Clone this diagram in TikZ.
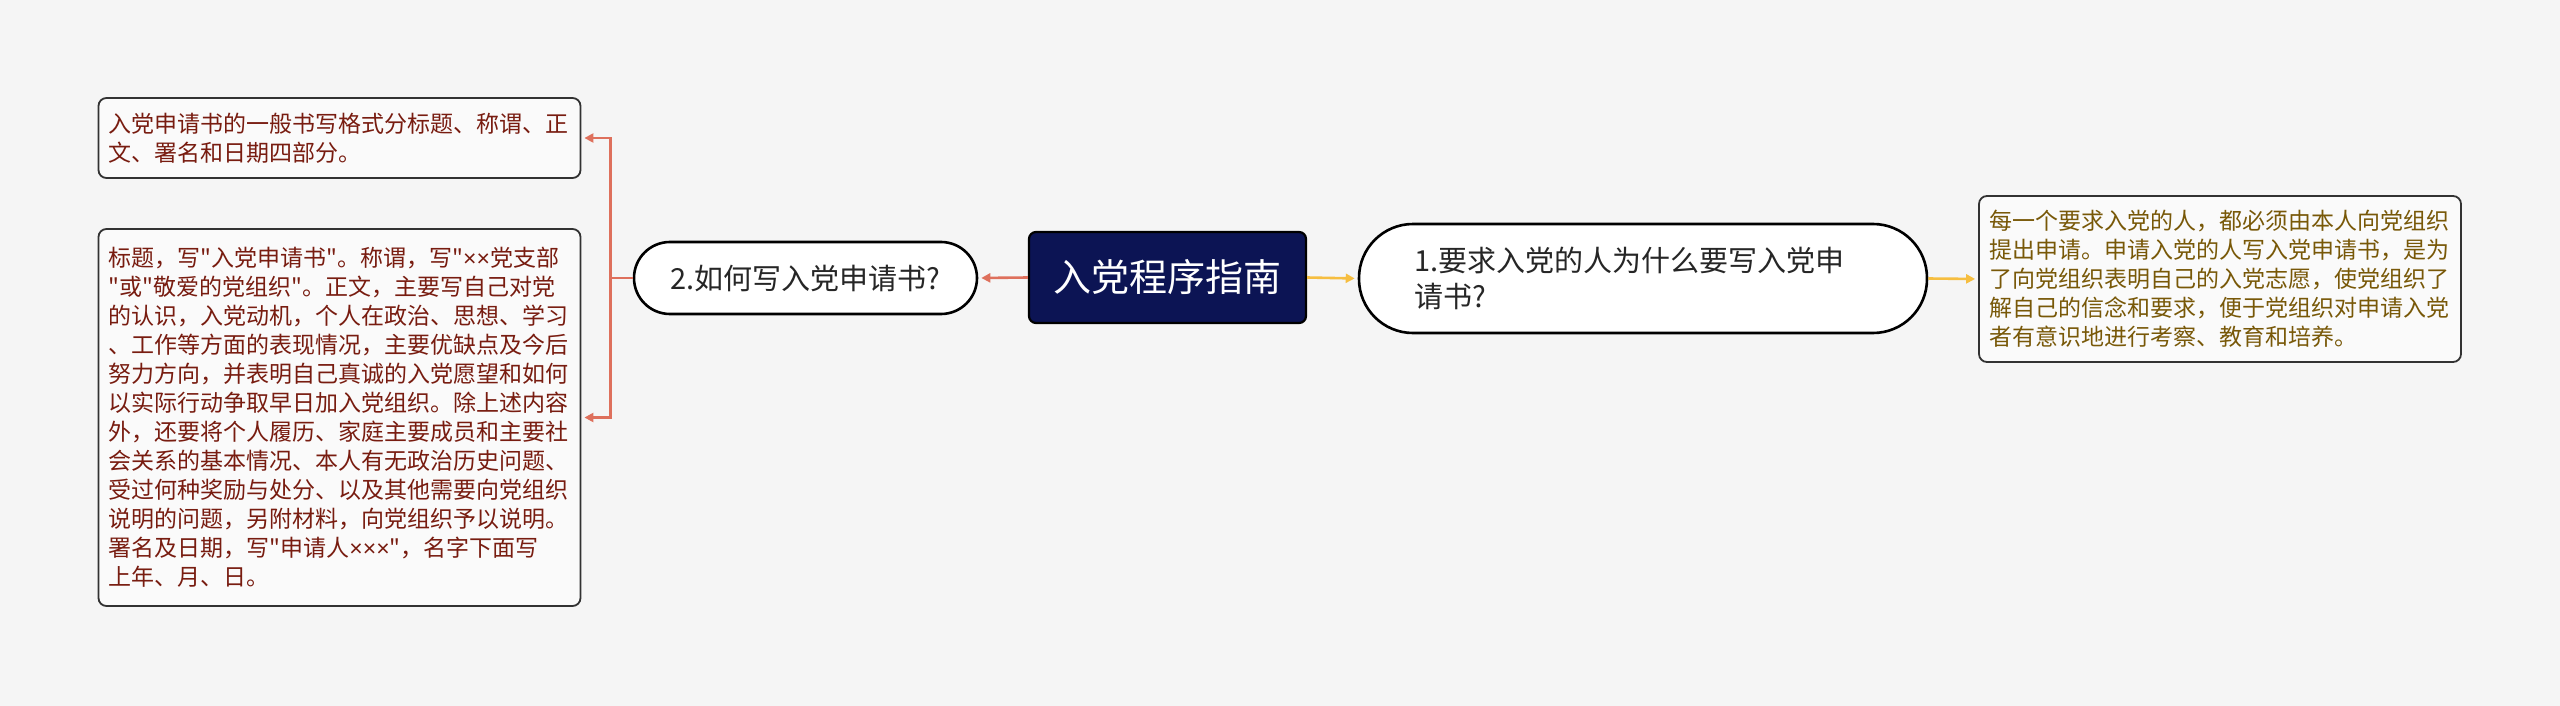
\documentclass[tikz,border=0pt]{standalone}
\usepackage{fontspec}
\usetikzlibrary{arrows.meta, positioning}
\newfontfamily\cjk{Noto Sans CJK SC}
\newfontfamily\latin{Liberation Sans}
\newcommand{\tms}{{\latin ×}}
\definecolor{PageGray}{RGB}{245,245,245}
\definecolor{RootNavy}{RGB}{12,20,84}
\definecolor{LeftLine}{RGB}{222,112,92}
\definecolor{LeftText}{RGB}{120,28,16}
\definecolor{RightLine}{RGB}{246,190,64}
\definecolor{RightText}{RGB}{120,88,8}
\definecolor{BoxLine}{RGB}{50,50,50}

\begin{document}
\begin{tikzpicture}[x=1pt, y=-1pt,
    leaf/.style={draw=BoxLine, line width=1.8pt, fill=white!55!PageGray, rounded corners=8pt,
      align=left, text width=462pt, inner xsep=10pt, inner ysep=12pt,
      font=\cjk\fontsize{23}{29}\selectfont},
    topic/.style={draw=black, line width=2.6pt, fill=white, text=black!85,
      font=\cjk\fontsize{29}{36}\selectfont},
    link/.style={line width=2.6pt, -{Triangle[length=9pt, width=9pt]}, shorten >=3pt}]

    % Background
    \fill[PageGray] (0,0) rectangle (2560,706);

    % Root
    \node[draw=black, line width=2.2pt, fill=RootNavy, text=white, rounded corners=7pt,
      minimum width=277pt, minimum height=91pt, font=\cjk\fontsize{38}{44}\selectfont]
      (root) at (1167.5,277.5) {入党程序指南};

    % Left branch
    \node[topic, rounded corners=36pt, minimum width=343pt, minimum height=72pt]
      (howto) at (805.5,278) {2.如何写入党申请书?};

    \node[leaf, text=LeftText, minimum height=80pt] (format) at (339.5,138)
      {入党申请书的一般书写格式分标题、称谓、正\\文、署名和日期四部分。};

    \node[leaf, text=LeftText, minimum height=377pt] (content) at (339.5,417.5)
      {标题，写"入党申请书"。称谓，写"\tms\tms 党支部\\
       "或"敬爱的党组织"。正文，主要写自己对党\\
       的认识，入党动机，个人在政治、思想、学习\\
       、工作等方面的表现情况，主要优缺点及今后\\
       努力方向，并表明自己真诚的入党愿望和如何\\
       以实际行动争取早日加入党组织。除上述内容\\
       外，还要将个人履历、家庭主要成员和主要社\\
       会关系的基本情况、本人有无政治历史问题、\\
       受过何种奖励与处分、以及其他需要向党组织\\
       说明的问题，另附材料，向党组织予以说明。\\
       署名及日期，写"申请人\tms\tms\tms"，名字下面写\\
       \noindent 上年、月、日。};

    % Right branch
    \node[topic, rounded corners=54pt, align=left, text width=458pt, inner xsep=55pt,
      minimum height=109pt] (why) at (1643,278.5)
      {1.要求入党的人为什么要写入党申\\请书?};

    \node[leaf, text=RightText, minimum height=166pt] (reason) at (2220,279)
      {每一个要求入党的人，都必须由本人向党组织\\
       提出申请。申请入党的人写入党申请书，是为\\
       了向党组织表明自己的入党志愿，使党组织了\\
       解自己的信念和要求，便于党组织对申请入党\\
       者有意识地进行考察、教育和培养。};

    % Connectors
    \draw[link, LeftLine] (root.west) -- (howto.east);
    \coordinate (fork) at ([xshift=-22pt]howto.west);
    \draw[link, LeftLine] (howto.west) -- (fork) |- (format.east);
    \draw[link, LeftLine] (fork) |- (content.east);

    \draw[link, RightLine] (root.east) -- (why.west);
    \draw[link, RightLine] (why.east) -- (reason.west);
\end{tikzpicture}
\end{document}
